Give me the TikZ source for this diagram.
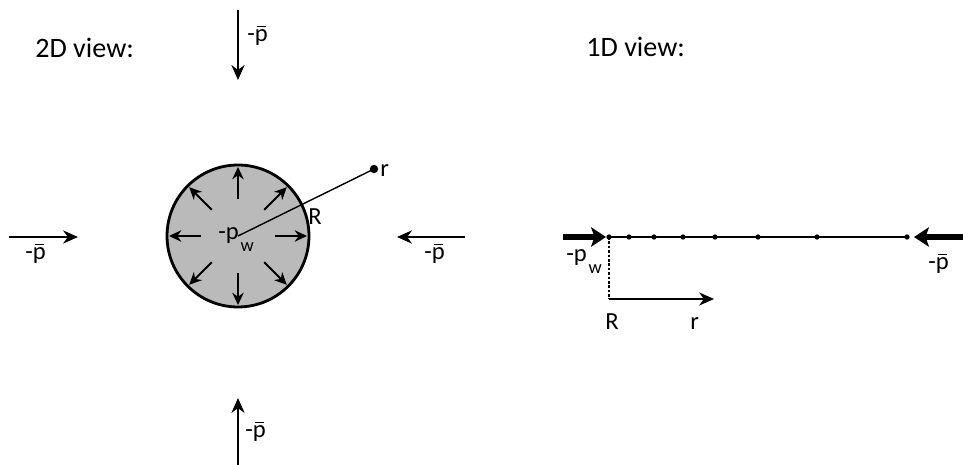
\documentclass[tikz,border=0pt]{standalone}
\usepackage{fontspec}
\setmainfont{Carlito}
\usetikzlibrary{arrows.meta}
\tikzset{
  title/.style={font=\fontsize{16}{19}\selectfont, inner sep=0pt},
  lbl/.style={font=\fontsize{14}{16}\selectfont, inner sep=0pt},
  push/.style={line width=1.1pt, -{Stealth[length=8.5pt,width=7.5pt]}},
  inpush/.style={line width=1.1pt, -{Stealth[length=7pt,width=6.5pt]}},
  heavy/.style={line width=3.8pt, -{Stealth[length=8.5pt,width=11pt,inset=2pt]}},
  gridpt/.style={circle, fill, inner sep=0pt, minimum size=3pt},
}
\newcommand{\pbar}{-\rlap{\kern0.07em\raisebox{0.6em}{\rule{0.4em}{0.06em}}}p}
\newcommand{\pwall}{-p\kern1pt\raisebox{-6.5pt}{\fontsize{10.5}{10}\selectfont w}}

\begin{document}
\begin{tikzpicture}[x=0.02cm,y=-0.02cm]
\useasboundingbox (0,0) rectangle (963,465);
% ---- left panel: 2D view ----
\node[title, anchor=west] (view2d) at (35,48) {2D view:};
\node[circle, draw, fill=black!27, line width=1.6pt, minimum size=2.84cm, inner sep=0pt] (well) at (238,236) {};
% wall pressure, pointing outwards
\foreach \a in {0,45,...,315}
  \draw[inpush] (well.center) ++(\a:37) -- ++(\a:32);
% radius line out to r
\coordinate (rpt) at (374,169);
\draw[line width=0.8pt] (well.center) -- (rpt);
\fill (rpt) circle (2.4pt);
\node[lbl, anchor=base west] (rlbl2d) at (380,177) {r};
\node[lbl, anchor=base west] (Rlbl2d) at (308,225) {R};
\node[lbl, anchor=base west] (pw2d) at (218,240) {\pwall};
% far-field pressure
\coordinate (ntail) at (238,10);  \coordinate (nhead) at (238,80);
\coordinate (stail) at (238,465); \coordinate (shead) at (238,398);
\coordinate (wtail) at (9,237);   \coordinate (whead) at (78,237);
\coordinate (etail) at (465,237); \coordinate (ehead) at (397,237);
\draw[push] (ntail) -- (nhead);
\draw[push] (stail) -- (shead);
\draw[push] (wtail) -- (whead);
\draw[push] (etail) -- (ehead);
\node[lbl, anchor=base west] (pn) at (247,42) {\pbar};
\node[lbl, anchor=base west] (ps) at (245,438) {\pbar};
\node[lbl, anchor=base west] (pwst) at (25,260) {\pbar};
\node[lbl, anchor=base west] (pest) at (424,260) {\pbar};
% ---- right panel: 1D view ----
\node[title, anchor=west] (view1d) at (586,47) {1D view:};
\foreach \x [count=\i] in {609,629,654,683,715,758,817,907}
  \node[gridpt] (d\i) at (\x,237) {};
\draw[line width=1.1pt] (d1.center) -- (d8.center);
\coordinate (lend) at (563,237);
\coordinate (rend) at (963,237);
\coordinate (rtip) at (914,237);
\draw[heavy] (lend) -- (d1.west);
\draw[heavy] (rend) -- (rtip);
\node[lbl, anchor=base west] (pw1d) at (566,262) {\pwall};
\node[lbl, anchor=base west] (pb1d) at (928,270) {\pbar};
% radial axis
\coordinate (rfoot) at (609,299);
\coordinate (rhead) at (714,299);
\draw[line width=0.6pt, dash pattern=on 1.5pt off 1pt] (d1.center) -- (rfoot);
\draw[push] (rfoot) -- (rhead);
\node[lbl, anchor=base west] (Rlbl1d) at (605,330) {R};
\node[lbl, anchor=base west] (rlbl1d) at (690,330) {r};
\end{tikzpicture}
\end{document}
